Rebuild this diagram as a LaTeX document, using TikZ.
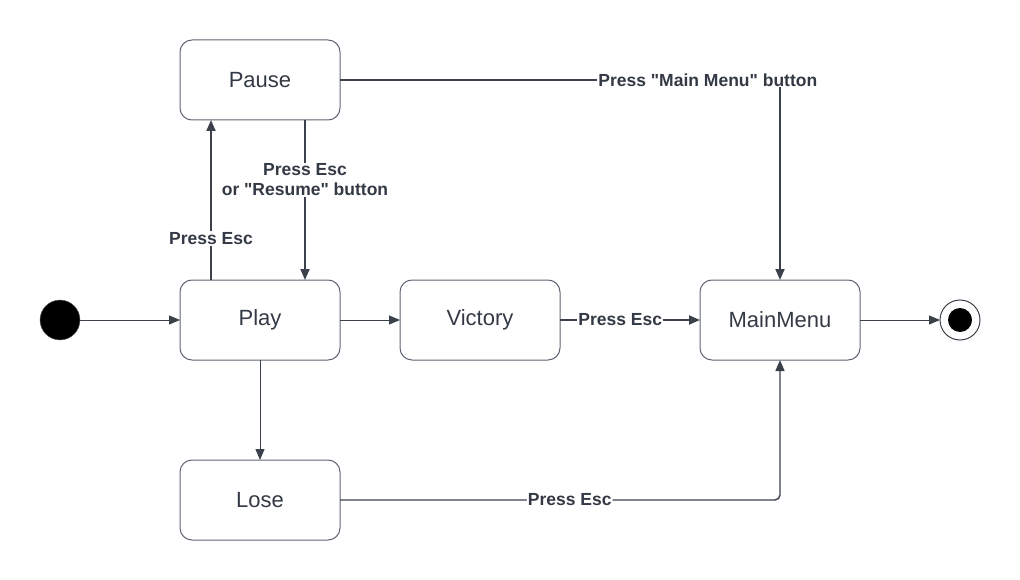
\documentclass[tikz,border=0pt]{standalone}
\usepackage{fontspec}
\setmainfont{Liberation Sans}
\usetikzlibrary{positioning,arrows.meta}
\definecolor{lineclr}{HTML}{3A414B}
\definecolor{boxclr}{HTML}{5E6571}
\definecolor{txtclr}{HTML}{333A45}
\begin{document}
\begin{tikzpicture}[x=1pt,y=-1pt,
    statebox/.style={draw=boxclr, line width=1pt, rounded corners=12pt,
      minimum width=160pt, minimum height=80pt, outer sep=0pt, text=txtclr,
      font=\fontsize{22}{26}\selectfont},
    trans/.style={draw=lineclr, line width=1pt,
      -{Triangle[length=11pt,width=9pt]}},
    thick trans/.style={trans, line width=1.8pt},
    lbl/.style={fill=white, inner sep=1pt, text=txtclr,
      font=\fontsize{17.5}{20}\selectfont\bfseries},
    node distance=60pt]
        \useasboundingbox (0,0) rectangle (1020,580);

        \node (play)     [statebox] at (260,320)      {Play};
        \node (pause)    [statebox, above=160pt of play] {Pause};
        \node (victory)  [statebox, right=60pt of play]  {Victory};
        \node (mainmenu) [statebox, right=140pt of victory] {MainMenu};
        \node (lose)     [statebox, below=100pt of play] {Lose};
        \node (init)  [circle, fill=black, draw=boxclr, minimum size=40pt,
                       inner sep=0pt, outer sep=0pt, left=100pt of play] {};
        \node (final) [circle, draw=lineclr, line width=1pt, minimum size=40pt,
                       inner sep=0pt, outer sep=0pt, right=80pt of mainmenu] {};
        \fill [black] (final.center) circle (12pt);

        \draw [trans] (init) to (play);
        \draw [thick trans] ([xshift=-49pt]play.north) to
              node [lbl, pos=0.26] {Press Esc} ([xshift=-49pt]pause.south);
        \draw [thick trans] ([xshift=45pt]pause.south) to
              node [lbl, pos=0.375, align=center]
              {Press Esc\\or \textquotedbl Resume\textquotedbl{} button}
              ([xshift=45pt]play.north);
        \draw [trans] (play) to (victory);
        \draw [thick trans] (victory) to node [lbl, pos=0.43] {Press Esc} (mainmenu);
        \draw [thick trans] (pause.east) -| node [lbl, pos=0.418]
              {Press \textquotedbl Main Menu\textquotedbl{} button} (mainmenu.north);
        \draw [trans] (play.south) to (lose.north);
        \draw [trans, line width=1.4pt, rounded corners=5pt] (lose.east) -|
              node [lbl, pos=0.261] {Press Esc} (mainmenu.south);
        \draw [trans] (mainmenu) to (final);
      \end{tikzpicture}
\end{document}
